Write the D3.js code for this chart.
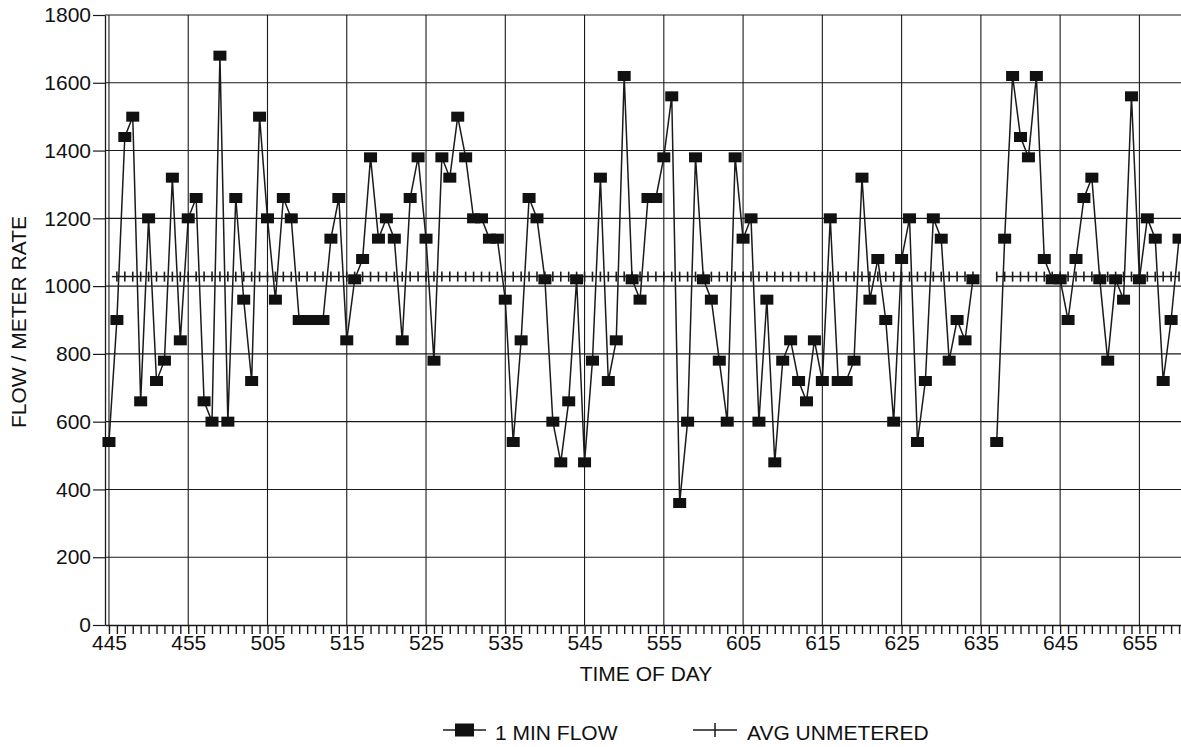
<!DOCTYPE html>
<html>
<head>
<meta charset="utf-8">
<script src="https://cdnjs.cloudflare.com/ajax/libs/d3/7.8.5/d3.min.js"></script>
<style>
  body { margin: 0; background: #fff; }
  svg { display: block; font-family: "Liberation Sans", Arial, sans-serif; }
  text { fill: #111; }
</style>
</head>
<body>
<svg id="chart" width="1181" height="747"></svg>
<script>
// one reading per minute, starting 4:45 (null = no reading)
var flow1Min = [
  540, 900, 1440, 1500, 660, 1200, 720, 780, 1320, 840,        // 445-454
  1200, 1260, 660, 600, 1680, 600, 1260, 960, 720, 1500,       // 455-504
  1200, 960, 1260, 1200, 900, 900, 900, 900, 1140, 1260,       // 505-514
  840, 1020, 1080, 1380, 1140, 1200, 1140, 840, 1260, 1380,    // 515-524
  1140, 780, 1380, 1320, 1500, 1380, 1200, 1200, 1140, 1140,   // 525-534
  960, 540, 840, 1260, 1200, 1020, 600, 480, 660, 1020,        // 535-544
  480, 780, 1320, 720, 840, 1620, 1020, 960, 1260, 1260,       // 545-554
  1380, 1560, 360, 600, 1380, 1020, 960, 780, 600, 1380,       // 555-604
  1140, 1200, 600, 960, 480, 780, 840, 720, 660, 840,          // 605-614
  720, 1200, 720, 720, 780, 1320, 960, 1080, 900, 600,         // 615-624
  1080, 1200, 540, 720, 1200, 1140, 780, 900, 840, 1020,       // 625-634
  null, null, 540, 1140, 1620, 1440, 1380, 1620, 1080, 1020,   // 635-644
  1020, 900, 1080, 1260, 1320, 1020, 780, 1020, 960, 1560,     // 645-654
  1020, 1200, 1140, 720, 900, 1140                             // 655-700
];
var avgUnmetered = 1028;       // flat average, drawn from 4:46 on
var avgFirstMinute = 1;
var tickLabels = ["445", "455", "505", "515", "525", "535", "545", "555",
                  "605", "615", "625", "635", "645", "655"];
var yTicks = [0, 200, 400, 600, 800, 1000, 1200, 1400, 1600, 1800];

var svg = d3.select("#chart");
var plotLeft = 105, plotTop = 15, plotBottom = 625, plotRight = 1181;

var x = d3.scaleLinear().domain([-0.5, 135.5]).range([plotLeft, 1183]);
var y = d3.scaleLinear().domain([0, 1800]).range([plotBottom, plotTop]);

var ink = "#1a1a1a";

// grid
var grid = svg.append("g").attr("stroke", ink).attr("stroke-width", 1.1);
grid.selectAll("line.h")
  .data(yTicks.slice(1))
  .enter().append("line")
  .attr("x1", plotLeft).attr("x2", plotRight)
  .attr("y1", function (d) { return y(d); })
  .attr("y2", function (d) { return y(d); });
grid.selectAll("line.v")
  .data(tickLabels)
  .enter().append("line")
  .attr("x1", function (d, i) { return x(i * 10); })
  .attr("x2", function (d, i) { return x(i * 10); })
  .attr("y1", plotTop).attr("y2", plotBottom);

// y axis
var yAxis = svg.append("g")
  .attr("transform", "translate(" + plotLeft + ",0)")
  .call(d3.axisLeft(y).tickValues(yTicks).tickFormat(d3.format("d"))
    .tickSize(12).tickPadding(2).tickSizeOuter(0));
yAxis.select(".domain").attr("stroke", ink).attr("stroke-width", 1.3);
yAxis.selectAll(".tick line").attr("stroke", ink).attr("stroke-width", 1.2);
yAxis.selectAll(".tick text").style("font-size", "21px").attr("fill", "#111");

// x axis: a tick every minute, labels every ten
var minutes = d3.range(0, 136);
var xAxis = svg.append("g")
  .attr("transform", "translate(0," + plotBottom + ")")
  .call(d3.axisBottom(x).tickValues(minutes).tickSize(9).tickSizeOuter(0)
    .tickFormat(function (d) { return d % 10 === 0 ? tickLabels[d / 10] : ""; }));
xAxis.select(".domain").attr("stroke", ink).attr("stroke-width", 1.3);
xAxis.selectAll(".tick line").attr("stroke", ink).attr("stroke-width", 1.4);
xAxis.selectAll(".tick text").style("font-size", "21px").attr("fill", "#111").attr("dy", "0.62em");
svg.append("line")
  .attr("x1", x(135.5)).attr("x2", plotRight)
  .attr("y1", plotBottom).attr("y2", plotBottom)
  .attr("stroke", ink).attr("stroke-width", 1.3);

// average unmetered line with + marks
var line = d3.line()
  .defined(function (d) { return d.v !== null; })
  .x(function (d) { return x(d.i); })
  .y(function (d) { return y(d.v); });
var avgData = minutes.map(function (i) {
  return { i: i, v: (i >= avgFirstMinute && flow1Min[i] !== null) ? avgUnmetered : null };
});
var avgMinutes = avgData.filter(function (d) { return d.v !== null; });
svg.append("path")
  .datum(avgData)
  .attr("fill", "none").attr("stroke", ink).attr("stroke-width", 1.5)
  .attr("d", line);
svg.append("line")
  .attr("x1", x(avgFirstMinute) - 5).attr("x2", x(avgFirstMinute))
  .attr("y1", y(avgUnmetered)).attr("y2", y(avgUnmetered))
  .attr("stroke", ink).attr("stroke-width", 1.5);
svg.append("g").selectAll("line")
  .data(avgMinutes)
  .enter().append("line")
  .attr("x1", function (d) { return x(d.i); })
  .attr("x2", function (d) { return x(d.i); })
  .attr("y1", function (d) { return y(d.v) - 5; })
  .attr("y2", function (d) { return y(d.v) + 5; })
  .attr("stroke", ink).attr("stroke-width", 1.6);

// 1 min flow
var flowData = flow1Min.map(function (v, i) { return { i: i, v: v }; });
svg.append("path")
  .datum(flowData)
  .attr("fill", "none").attr("stroke", ink).attr("stroke-width", 1.5)
  .attr("d", line);
svg.append("g").selectAll("rect")
  .data(flowData.filter(function (d) { return d.v !== null; }))
  .enter().append("rect")
  .attr("x", function (d) { return x(d.i) - 6.5; })
  .attr("y", function (d) { return y(d.v) - 5; })
  .attr("width", 13).attr("height", 10)
  .attr("fill", "#111");

// titles
svg.append("text")
  .attr("x", 646).attr("y", 681)
  .attr("text-anchor", "middle")
  .style("font-size", "21px")
  .text("TIME OF DAY");
svg.append("text")
  .attr("transform", "translate(26,322) rotate(-90)")
  .attr("text-anchor", "middle")
  .style("font-size", "21px")
  .text("FLOW / METER RATE");

// legend
var leg = svg.append("g");
leg.append("line").attr("x1", 443).attr("x2", 486).attr("y1", 730).attr("y2", 730)
  .attr("stroke", ink).attr("stroke-width", 1.5);
leg.append("rect").attr("x", 455).attr("y", 723.5).attr("width", 19).attr("height", 13).attr("fill", "#111");
leg.append("text").attr("x", 495).attr("y", 740).style("font-size", "21px").text("1 MIN FLOW");
leg.append("line").attr("x1", 693).attr("x2", 737).attr("y1", 730).attr("y2", 730)
  .attr("stroke", ink).attr("stroke-width", 1.5);
leg.append("line").attr("x1", 715).attr("x2", 715).attr("y1", 723).attr("y2", 737)
  .attr("stroke", ink).attr("stroke-width", 1.5);
leg.append("text").attr("x", 747).attr("y", 740).style("font-size", "21px").text("AVG UNMETERED");
</script>
</body>
</html>
